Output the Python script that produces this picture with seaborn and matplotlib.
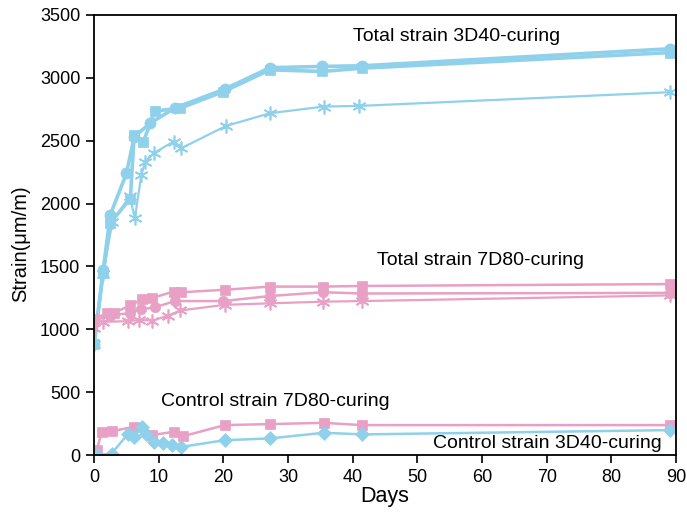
import matplotlib
matplotlib.use("Agg")
import matplotlib.pyplot as plt
import seaborn as sns
import pandas as pd

sns.set_style("ticks")
plt.rcParams["font.family"] = ["Liberation Sans", "DejaVu Sans"]
plt.rcParams["text.color"] = "black"
plt.rcParams["axes.labelcolor"] = "black"

BLUE = "#8fd0ea"
PINK = "#e8a0c4"

# Total strain, 3D40 curing
t3_circle_days = [0, 1.4, 2.5, 5.0, 6.2, 8.7, 12.5, 20.2, 27.2, 35.3, 41.4, 89]
t3_circle_vals = [880, 1470, 1910, 2240, 2530, 2640, 2760, 2910, 3080, 3090, 3095, 3230]
t3_square_days = [0, 1.4, 2.5, 5.6, 6.2, 7.6, 9.4, 13.3, 20.0, 27.2, 35.3, 41.4, 89]
t3_square_vals = [880, 1450, 1845, 2040, 2546, 2490, 2735, 2758, 2890, 3063, 3050, 3076, 3200]
t3_star_days = [0, 1.4, 2.8, 5.5, 6.3, 7.3, 7.9, 9.2, 12.3, 13.5, 20.4, 27.2, 35.5, 41.0, 89]
t3_star_vals = [880, 1440, 1850, 2060, 1883, 2227, 2333, 2400, 2493, 2440, 2617, 2718, 2771, 2776, 2885]

# Total strain, 7D80 curing
t7_square_days = [0, 2.0, 3.0, 5.6, 7.4, 9.0, 12.3, 13.5, 20.3, 27.2, 35.4, 41.5, 89]
t7_square_vals = [1080, 1130, 1130, 1190, 1240, 1250, 1300, 1295, 1315, 1340, 1340, 1345, 1360]
t7_circle_days = [0, 2.5, 5.6, 7.2, 9.4, 12.5, 20.0, 27.2, 35.4, 41.5, 89]
t7_circle_vals = [1070, 1110, 1130, 1160, 1175, 1225, 1225, 1265, 1295, 1285, 1290]
t7_star_days = [0, 1.4, 5.2, 7.0, 9.0, 11.5, 13.3, 20.2, 27.2, 35.4, 41.5, 89]
t7_star_vals = [1010, 1060, 1065, 1075, 1070, 1110, 1150, 1195, 1207, 1220, 1225, 1270]

# Control strains
c7_days = [0.4, 1.2, 2.7, 6.1, 8.9, 12.3, 13.8, 20.2, 27.2, 35.5, 41.4, 89]
c7_vals = [40, 186, 190, 225, 159, 186, 151, 239, 247, 257, 239, 239]
c3_days = [0.5, 2.7, 5.3, 6.1, 7.4, 8.1, 9.2, 10.7, 12.0, 13.5, 20.2, 27.2, 35.5, 41.5, 89]
c3_vals = [0, 13, 172, 146, 225, 172, 106, 93, 80, 66, 119, 133, 178, 165, 199]

x_ticks = [0, 10, 20, 30, 40, 50, 60, 70, 80, 90]
y_ticks = [0, 500, 1000, 1500, 2000, 2500, 3000, 3500]

asterisk = (6, 2, 0)
series = [
    (t3_circle_days, t3_circle_vals, BLUE, "o", 2.6, 8),
    (t3_square_days, t3_square_vals, BLUE, "s", 2.6, 7.5),
    (t3_star_days, t3_star_vals, BLUE, asterisk, 1.6, 10),
    (t7_square_days, t7_square_vals, PINK, "s", 1.8, 7.5),
    (t7_circle_days, t7_circle_vals, PINK, "o", 1.8, 7.5),
    (t7_star_days, t7_star_vals, PINK, asterisk, 1.6, 10),
    (c7_days, c7_vals, PINK, "s", 1.8, 7.5),
    (c3_days, c3_vals, BLUE, "D", 1.8, 7.5),
]

fig = plt.figure(figsize=(6.87, 5.12), dpi=100)
ax = fig.add_axes([0.137, 0.111, 0.847, 0.860])

for days, vals, color, mk, lw, ms in series:
    df = pd.DataFrame({"Days": days, "Strain": vals})
    sns.lineplot(data=df, x="Days", y="Strain", ax=ax, color=color,
                 marker=mk, markersize=ms, linewidth=lw, sort=False,
                 markeredgecolor=color, markeredgewidth=1.2 if mk == asterisk else 0.5)

ax.set_xlim(0, 90)
ax.set_ylim(0, 3500)
ax.set_xticks(x_ticks)
ax.set_yticks(y_ticks)
ax.tick_params(direction="out", length=6, width=1.2, labelsize=13, pad=4,
               colors="black", top=False, right=False)
for sp in ax.spines.values():
    sp.set_visible(True)
    sp.set_linewidth(1.3)
    sp.set_color("black")

ax.set_xlabel("Days", fontsize=15.5, labelpad=0)
ax.set_ylabel("Strain(\u03bcm/m)", fontsize=14.5, labelpad=2)
ax.yaxis.set_label_coords(-0.11, 0.48)

ax.text(56, 3325, "Total strain 3D40-curing", ha="center", va="center", fontsize=14)
ax.text(59.8, 1551, "Total strain 7D80-curing", ha="center", va="center", fontsize=14)
ax.text(28.0, 424, "Control strain 7D80-curing", ha="center", va="center", fontsize=14)
ax.text(70.1, 95, "Control strain 3D40-curing", ha="center", va="center", fontsize=14)

fig.savefig("out.png", dpi=100)
